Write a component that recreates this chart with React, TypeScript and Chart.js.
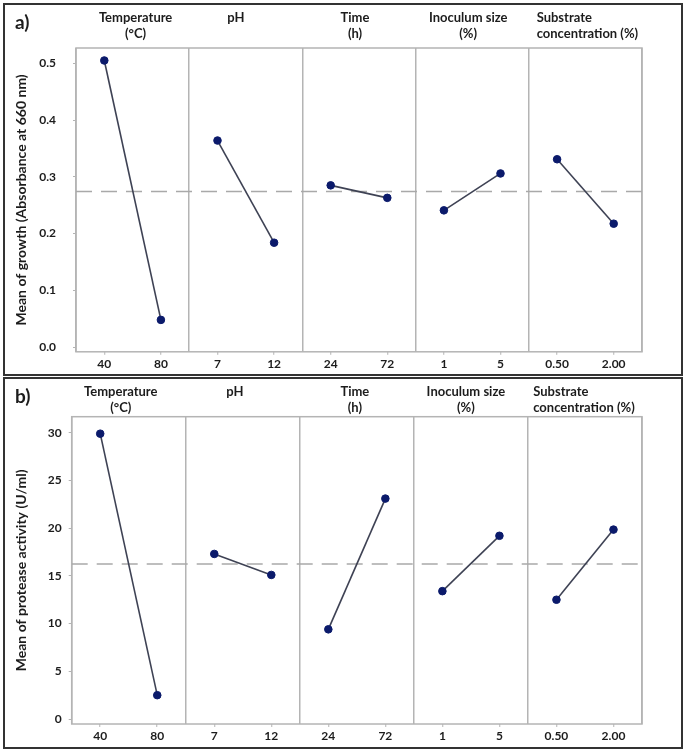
import React, { useEffect, useRef } from "react";
import { Chart, registerables } from "chart.js";

Chart.register(...registerables);

// ---- Data ----
const factorTitles: string[][] = [
  ["Temperature", "(°C)"],
  ["pH"],
  ["Time", "(h)"],
  ["Inoculum size", "(%)"],
  ["Substrate", "concentration (%)"],
];
const levelLabels = ["40", "80", "7", "12", "24", "72", "1", "5", "0.50", "2.00"];

const growthMeans = [0.505, 0.048, 0.364, 0.184, 0.285, 0.263, 0.241, 0.306, 0.331, 0.2175];
const growthGrandMean = 0.274;
const growthTicks = [0, 0.1, 0.2, 0.3, 0.4, 0.5];

const proteaseMeans = [29.9, 2.5, 17.3, 15.1, 9.4, 23.1, 13.4, 19.2, 12.5, 19.85];
const proteaseGrandMean = 16.25;
const proteaseTicks = [0, 5, 10, 15, 20, 25, 30];

const FONT = "Lato, 'Open Sans', sans-serif";
const TEXT = "#1c1c1c";
const FRAME = "#b4b4b4";

type PanelCfg = {
  label: string;
  yTitle: string;
  means: number[];
  grand: number;
  yTicks: number[];
  yMin: number;
  yMax: number;
  decimals: number;
  width: number;
  height: number;
  padTop: number;
  padRight: number;
  padBottom: number;
  yAxisWidth: number;
  xAxisHeight: number;
  tickPad: number;
  titleOffsets: number[];
  titleY: number;
};

function makeChart(canvas: HTMLCanvasElement, p: PanelCfg) {
  const datasets: any[] = [];
  for (let i = 0; i < factorTitles.length; i++) {
    datasets.push({
      data: [
        { x: 2 * i + 0.5, y: p.means[2 * i] },
        { x: 2 * i + 1.5, y: p.means[2 * i + 1] },
      ],
      borderColor: "#3e4254",
      borderWidth: 1.6,
      pointRadius: 3.8,
      pointBackgroundColor: "#0b1a6b",
      pointBorderColor: "#0b1a6b",
      pointBorderWidth: 1,
      showLine: true,
      fill: false,
    });
  }
  datasets.push({
    data: [
      { x: 0, y: p.grand },
      { x: 10, y: p.grand },
    ],
    borderColor: "#a9a9a9",
    borderWidth: 1.5,
    borderDash: [16, 9],
    pointRadius: 0,
    showLine: true,
    fill: false,
  });

  const decor = {
    id: "decor",
    beforeDatasetsDraw(chart: any) {
      const { ctx, chartArea } = chart;
      ctx.save();
      ctx.strokeStyle = FRAME;
      ctx.lineWidth = 1.5;
      ctx.strokeRect(chartArea.left, chartArea.top, chartArea.right - chartArea.left, chartArea.bottom - chartArea.top);
      ctx.restore();
    },
    afterDraw(chart: any) {
      const { ctx } = chart;
      const xs = chart.scales.x;
      ctx.save();
      ctx.fillStyle = TEXT;
      ctx.font = `bold 19px ${FONT}`;
      ctx.textBaseline = "middle";
      ctx.textAlign = "left";
      ctx.fillText(p.label, 15, p.titleY + 5);
      ctx.font = `bold 13px ${FONT}`;
      factorTitles.forEach((lines, i) => {
        const cx = xs.getPixelForValue(2 * i + 1) + p.titleOffsets[i];
        const leftAligned = i === factorTitles.length - 1;
        const maxW = Math.max(...lines.map((l) => ctx.measureText(l).width));
        lines.forEach((line, j) => {
          const y = p.titleY + j * 16;
          if (leftAligned) {
            ctx.textAlign = "left";
            ctx.fillText(line, cx - maxW / 2, y);
          } else {
            ctx.textAlign = "center";
            ctx.fillText(line, cx, y);
          }
        });
      });
      ctx.restore();
    },
  };

  return new Chart(canvas, {
    type: "scatter",
    data: { datasets },
    options: {
      animation: false,
      responsive: false,
      devicePixelRatio: 1,
      layout: { padding: { top: p.padTop, right: p.padRight, bottom: p.padBottom, left: 0 } },
      plugins: { legend: { display: false }, tooltip: { enabled: false } },
      scales: {
        x: {
          type: "linear",
          min: 0,
          max: 10,
          afterFit: (s: any) => {
            s.height = p.xAxisHeight;
          },
          afterBuildTicks: (s: any) => {
            const t: any[] = [];
            for (let v = 0; v <= 20; v++) t.push({ value: v / 2 });
            s.ticks = t;
          },
          border: { display: false },
          grid: {
            drawOnChartArea: true,
            drawTicks: true,
            tickLength: 3,
            lineWidth: 1.5,
            tickWidth: 1,
            color: (c: any) => (c.tick && c.tick.value % 2 === 0 ? FRAME : "transparent"),
            tickColor: (c: any) => (c.tick && c.tick.value % 1 !== 0 ? FRAME : "transparent"),
          },
          ticks: {
            autoSkip: false,
            maxRotation: 0,
            padding: 2,
            color: TEXT,
            font: { family: FONT, size: 12, weight: "bold" },
            callback: (v: any) => {
              const n = Number(v);
              if (n % 1 === 0) return "";
              return levelLabels[Math.floor(n)];
            },
          },
        },
        y: {
          type: "linear",
          min: p.yMin,
          max: p.yMax,
          afterFit: (s: any) => {
            s.width = p.yAxisWidth;
          },
          afterBuildTicks: (s: any) => {
            s.ticks = p.yTicks.map((v) => ({ value: v }));
          },
          border: { display: false },
          grid: {
            drawOnChartArea: false,
            drawTicks: true,
            tickLength: 3,
            tickColor: FRAME,
          },
          ticks: {
            padding: p.tickPad,
            color: TEXT,
            font: { family: FONT, size: 12, weight: "bold" },
            callback: (v: any) => Number(v).toFixed(p.decimals),
          },
          title: {
            display: true,
            text: p.yTitle,
            color: TEXT,
            font: { family: FONT, size: 14, weight: "bold" },
            padding: { top: 13, bottom: 0 },
          },
        },
      },
    },
    plugins: [decor],
  } as any);
}

const panelA: PanelCfg = {
  label: "a)",
  yTitle: "Mean of growth (Absorbance at 660 nm)",
  means: growthMeans,
  grand: growthGrandMean,
  yTicks: growthTicks,
  yMin: -0.0082,
  yMax: 0.527,
  decimals: 1,
  width: 685,
  height: 376,
  padTop: 48,
  padRight: 43,
  padBottom: 1,
  yAxisWidth: 76,
  xAxisHeight: 22,
  tickPad: 17,
  titleOffsets: [3, -10, -4, -4, 2],
  titleY: 18,
};

const panelB: PanelCfg = {
  label: "b)",
  yTitle: "Mean of protease activity (U/ml)",
  means: proteaseMeans,
  grand: proteaseGrandMean,
  yTicks: proteaseTicks,
  yMin: -0.52,
  yMax: 31.68,
  decimals: 0,
  width: 685,
  height: 375,
  padTop: 40.7,
  padRight: 43,
  padBottom: 3,
  yAxisWidth: 71.7,
  xAxisHeight: 24,
  tickPad: 7,
  titleOffsets: [-8, -8, -2, -5, -1],
  titleY: 16,
};

function Panel({ cfg, top }: { cfg: PanelCfg; top: number }) {
  const ref = useRef<HTMLCanvasElement>(null);
  useEffect(() => {
    if (!ref.current) return;
    const ch = makeChart(ref.current, cfg);
    return () => ch.destroy();
  }, [cfg]);
  return (
    <canvas
      ref={ref}
      width={cfg.width}
      height={cfg.height}
      style={{ position: "absolute", left: 0, top, width: cfg.width, height: cfg.height }}
    />
  );
}

export default function App() {
  return (
    <div style={{ position: "absolute", left: 0, top: 0, width: 685, height: 751, background: "#fff", overflow: "hidden" }}>
      <div style={{ position: "absolute", left: 3, top: 3, width: 676, height: 369, border: "2px solid #333" }} />
      <div style={{ position: "absolute", left: 3, top: 377, width: 676, height: 368, border: "2px solid #333" }} />
      <Panel cfg={panelA} top={0} />
      <Panel cfg={panelB} top={376} />
    </div>
  );
}
